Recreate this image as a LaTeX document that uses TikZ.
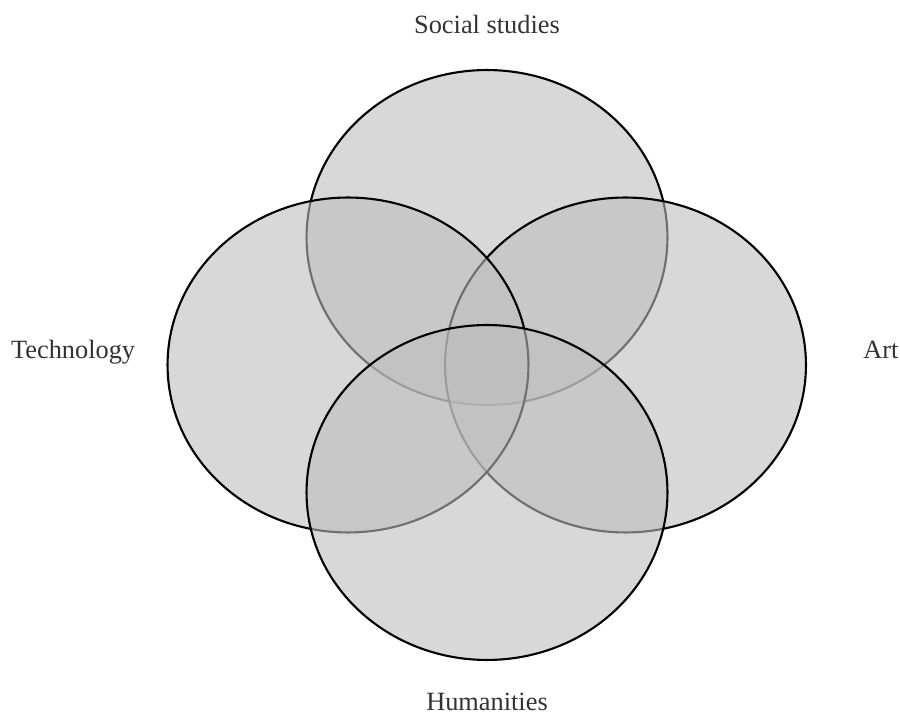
\documentclass[tikz,border=0pt]{standalone}
\usepackage{fontspec}
\setmainfont{Liberation Serif}
\usetikzlibrary{shapes.geometric, positioning}

\tikzset{
    subject/.style={
        ellipse, draw=black, line width=1.2pt, fill=black!26, fill opacity=0.59,
        minimum width=7.22cm, minimum height=6.7cm, inner sep=0pt
    },
    caption/.style={
        inner sep=0pt, text=black!80, font=\fontsize{15}{18}\selectfont
    }
}

\begin{document}
\begin{tikzpicture}[x=0.02cm, y=-0.02cm]

    \useasboundingbox (0,0) rectangle (900,715);

    % Subjects
    \node[subject] (social) at (487,237.5) {};
    \node[subject] (art) at (625.5,365) {};
    \node[subject] (tech) at (348,365) {};
    \node[subject] (human) at (487,492.5) {};

    % Labels
    \node[caption, above=0.7cm of social] (sociallabel) {Social studies};
    \node[caption, below=0.64cm of human] (humanlabel) {Humanities};
    \node[caption, left=0.62cm of tech.west, anchor=base east, yshift=0.12cm] (techlabel) {Technology};
    \node[caption, right=1.12cm of art.east, anchor=base west, yshift=0.12cm] (artlabel) {Art};

\end{tikzpicture}
\end{document}
